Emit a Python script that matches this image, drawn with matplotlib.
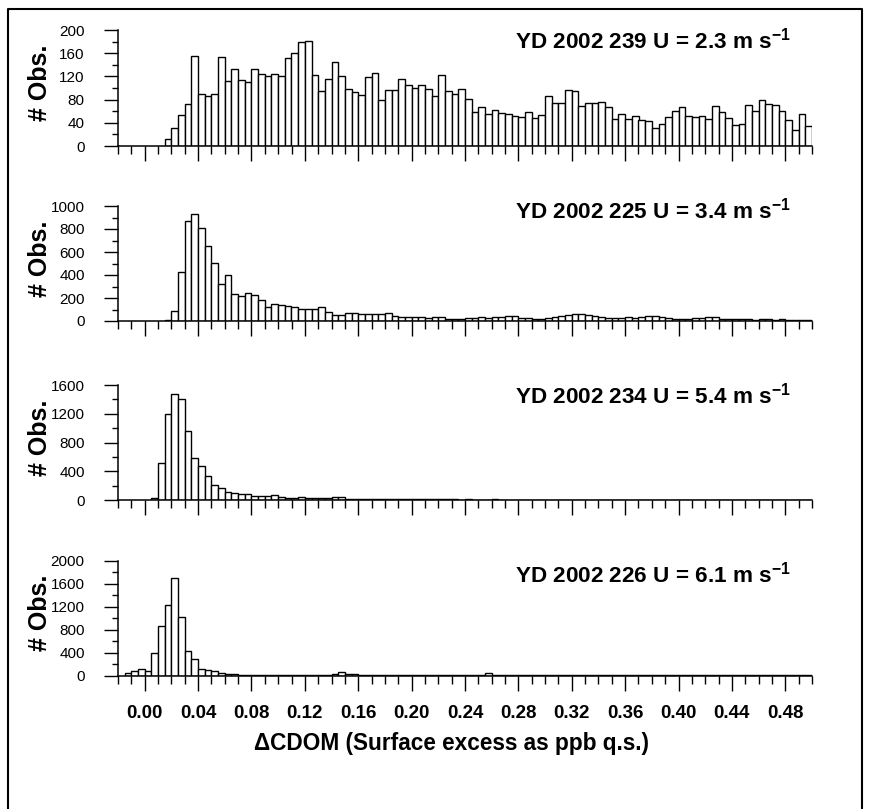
"""Histogramas de DeltaCDOM (exceso superficial) para cuatro dias con distinto viento.

Cuatro paneles apilados que comparten el eje x; solo el panel inferior lleva
las etiquetas del eje x.
"""

from __future__ import annotations

import matplotlib

matplotlib.use("Agg")
import matplotlib.pyplot as plt
import numpy as np
from matplotlib.lines import Line2D
from matplotlib.ticker import FixedLocator, MultipleLocator

BIN_WIDTH = 0.005

DAYS = ["239", "225", "234", "226"]
WINDS = ["2.3", "3.4", "5.4", "6.1"]

# Borde izquierdo del primer bin de cada panel
STARTS = [0.015, 0.015, 0.005, -0.015]

P1_COUNTS = [
    12, 31, 53, 73, 155, 89, 86, 89, 154, 112,
    132, 114, 111, 132, 125, 120, 125, 120, 151, 161,
    180, 181, 123, 94, 116, 144, 121, 99, 93, 88,
    119, 126, 80, 97, 97, 115, 106, 100, 105, 99,
    86, 122, 95, 90, 99, 81, 59, 68, 56, 62,
    57, 56, 52, 50, 58, 49, 53, 86, 74, 74,
    96, 94, 69, 74, 75, 76, 68, 46, 56, 47,
    51, 45, 43, 31, 38, 50, 61, 68, 52, 50,
    52, 46, 69, 58, 48, 36, 38, 70, 61, 79,
    72, 71, 60, 45, 28, 55, 34,
]

P2_COUNTS = [
    9, 87, 429, 866, 927, 805, 656, 507, 321, 397,
    239, 219, 245, 222, 184, 125, 146, 140, 128, 122,
    108, 105, 105, 122, 79, 55, 55, 73, 70, 64,
    64, 61, 58, 70, 41, 38, 32, 38, 35, 29,
    32, 32, 20, 20, 20, 30, 28, 35, 30, 32,
    38, 40, 42, 30, 22, 18, 20, 30, 38, 45,
    55, 60, 58, 52, 45, 32, 28, 30, 28, 32,
    30, 35, 40, 44, 38, 22, 18, 20, 18, 22,
    25, 38, 35, 20, 15, 14, 15, 14, 12, 15,
    14, 12, 14, 12, 10, 12, 10,
]

P3_COUNTS = [
    25, 518, 1203, 1474, 1399, 956, 578, 480, 340, 210,
    168, 112, 93, 89, 89, 61, 56, 56, 70, 47,
    28, 28, 37, 33, 23, 28, 28, 42, 37, 19,
    15, 12, 14, 10, 12, 10, 8, 10, 12, 8,
    10, 8, 7, 8, 12, 8, 6, 8, 6, 5,
    6, 8, 6, 5, 5, 6, 5, 4, 5, 6,
    5, 4, 5, 4, 4, 5, 4, 4, 3, 4,
    5, 4, 3, 4, 3, 4, 3, 3, 4, 3,
    3, 3, 4, 3, 3, 2, 3, 3, 2, 3,
    3, 2, 3, 2, 2, 3, 2, 2, 2,
]

P4_COUNTS = [
    40, 81, 110, 81, 395, 866, 1238, 1703, 1029, 430,
    285, 120, 99, 70, 40, 29, 23, 17, 10, 8,
    6, 5, 5, 4, 4, 3, 5, 6, 8, 17,
    17, 29, 58, 29, 23, 10, 8, 6, 5, 5,
    4, 4, 3, 3, 4, 3, 3, 3, 4, 3,
    3, 4, 5, 8, 35, 10, 5, 4, 3, 3,
    3, 2, 3, 2, 2, 3, 2, 2, 2, 3,
    2, 2, 2, 2, 2, 3, 2, 2, 2, 2,
    2, 2, 2, 2, 3, 2, 2, 2, 2, 2,
    2, 2, 2, 2, 2, 2, 2, 2, 2, 2,
    2, 2, 2,
]

COUNTS = [P1_COUNTS, P2_COUNTS, P3_COUNTS, P4_COUNTS]

Y_MAX = [200, 1000, 1600, 2000]
Y_MAJOR = [40, 200, 400, 400]
Y_MINOR = [20, 100, 200, 200]

X_TICKS = [0.00, 0.04, 0.08, 0.12, 0.16, 0.20, 0.24, 0.28, 0.32, 0.36, 0.40, 0.44, 0.48]
X_TICK_LABELS = ["0.00", "0.04", "0.08", "0.12", "0.16", "0.20", "0.24",
                 "0.28", "0.32", "0.36", "0.40", "0.44", "0.48"]
X_LABEL = "\u0394CDOM (Surface excess as ppb q.s.)"

# Geometria en pixeles de la imagen (873 x 809)
W, H = 873, 809
AX_LEFT, AX_RIGHT = 118, 812
PANEL_PX = [(30, 146), (206, 321), (385, 500), (561, 675.5)]  # (arriba, abajo)
TITLE_BASELINE = [48, 218, 403, 583]

plt.rcParams["font.family"] = ["Liberation Sans", "DejaVu Sans"]
plt.rcParams["mathtext.fontset"] = "custom"
plt.rcParams["mathtext.rm"] = "Liberation Sans"
plt.rcParams["mathtext.bf"] = "Liberation Sans:bold"


def px_box(top: float, bottom: float) -> list[float]:
    """Convierte un rango vertical en pixeles a un rect de figura."""
    return [AX_LEFT / W, 1 - bottom / H, (AX_RIGHT - AX_LEFT) / W, (bottom - top) / H]


fig = plt.figure(figsize=(W / 100, H / 100), dpi=100)

for i, (top, bottom) in enumerate(PANEL_PX):
    ax = fig.add_axes(px_box(top, bottom))
    counts = np.asarray(COUNTS[i], dtype=float)
    edges = STARTS[i] + BIN_WIDTH * np.arange(len(counts))
    ax.bar(edges, counts, width=BIN_WIDTH, align="edge", color="white",
           edgecolor="black", linewidth=1.0)

    ax.set_xlim(-0.02, 0.50)
    ax.set_ylim(0, Y_MAX[i])
    for side in ("top", "right"):
        ax.spines[side].set_visible(False)
    for side in ("left", "bottom"):
        ax.spines[side].set_linewidth(1.1)

    ax.xaxis.set_major_locator(FixedLocator(X_TICKS))
    ax.xaxis.set_minor_locator(MultipleLocator(0.01))
    ax.yaxis.set_major_locator(MultipleLocator(Y_MAJOR[i]))
    ax.yaxis.set_minor_locator(MultipleLocator(Y_MINOR[i]))
    ax.tick_params(axis="x", which="major", length=11, width=1, direction="out")
    ax.tick_params(axis="x", which="minor", length=5.5, width=1, direction="out")
    # Las etiquetas del eje y quedan bastante separadas de las marcas
    ax.tick_params(axis="y", which="major", length=10, width=1, direction="out",
                   labelsize=11, pad=14)
    ax.tick_params(axis="y", which="minor", length=4, width=1, direction="out")

    if i == len(PANEL_PX) - 1:
        ax.set_xticklabels(X_TICK_LABELS, fontsize=13.5, fontweight="bold")
        ax.tick_params(axis="x", which="major", pad=10)
    else:
        ax.tick_params(axis="x", labelbottom=False)

    # Etiqueta del eje y, un poco por encima del centro del panel
    fig.text(40 / W, 1 - ((top + bottom) / 2 - 5) / H, "# Obs.", rotation=90,
             ha="center", va="center", fontsize=18, fontweight="bold")

    title = f"YD 2002 {DAYS[i]} U = {WINDS[i]} m s$^{{\\mathbf{{-1}}}}$"
    fig.text(791 / W, 1 - TITLE_BASELINE[i] / H, title, ha="right",
             va="baseline", fontsize=16.2, fontweight="bold")

fig.text(451 / W, 1 - 750 / H, X_LABEL, ha="center", va="baseline",
         fontsize=16.3, fontweight="bold")

# Marco exterior (izquierda, arriba, derecha)
frame_x = [8 / W, 8 / W, 862 / W, 862 / W]
frame_y = [0.0, 1 - 9 / H, 1 - 9 / H, 0.0]
fig.add_artist(Line2D(frame_x, frame_y, color="black", linewidth=1.5,
                      transform=fig.transFigure))

fig.savefig("out.png", dpi=100)
